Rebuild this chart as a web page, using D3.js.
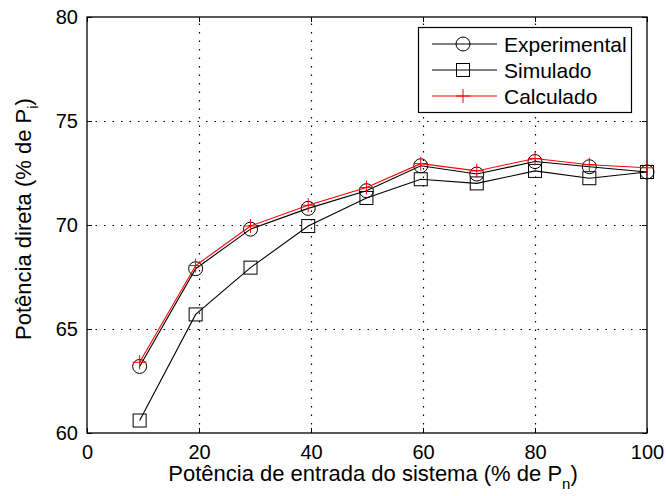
<!DOCTYPE html>
<html>
<head>
<meta charset="utf-8">
<script src="https://cdn.jsdelivr.net/npm/d3@7"></script>
<style>
html,body{margin:0;padding:0;background:#fff;}
svg{display:block;font-family:"Liberation Sans",Arial,Helvetica,sans-serif;}
</style>
</head>
<body>
<svg id="chart" width="666" height="496"></svg>
<script>
const xValues = [9.4, 19.4, 29.2, 39.5, 49.9, 59.6, 69.6, 80, 89.7, 100];
const experimental = [63.2, 67.9, 69.8, 70.8, 71.65, 72.85, 72.45, 73.05, 72.8, 72.55];
const simulado = [60.6, 65.7, 67.95, 69.95, 71.3, 72.2, 72.0, 72.6, 72.25, 72.55];
const calculado = [63.4, 68.05, 69.95, 70.95, 71.8, 72.95, 72.6, 73.2, 72.9, 72.75];
const xTicks = [0, 20, 40, 60, 80, 100];
const yTicks = [60, 65, 70, 75, 80];
const seriesNames = ["Experimental", "Simulado", "Calculado"];
const seriesColors = ["#000000", "#000000", "#ff0000"];
const seriesMarkers = ["circle", "square", "plus"];

const svg = d3.select("#chart");
const m = {left: 87, right: 647, top: 17, bottom: 433};
const x = d3.scaleLinear().domain([0, 100]).range([m.left, m.right]);
const y = d3.scaleLinear().domain([60, 80]).range([m.bottom, m.top]);

// grid
const grid = svg.append("g").attr("stroke", "#000").attr("stroke-width", 1.2).attr("stroke-dasharray", "1.5,7");
grid.selectAll(".vg").data(xTicks.slice(1, -1)).enter().append("line")
  .attr("x1", d => Math.round(x(d)) + 0.5).attr("x2", d => Math.round(x(d)) + 0.5)
  .attr("y1", m.bottom).attr("y2", m.top);
grid.selectAll(".hg").data(yTicks.slice(1, -1)).enter().append("line")
  .attr("y1", d => Math.round(y(d)) + 0.5).attr("y2", d => Math.round(y(d)) + 0.5)
  .attr("x1", m.left).attr("x2", m.right);

// axes
const tickFs = 20;
const fs = 21;
const titleFs = 22;
const axB = svg.append("g").attr("transform", `translate(0,${m.bottom})`)
  .call(d3.axisBottom(x).tickValues(xTicks).tickSizeInner(-5).tickSizeOuter(0).tickPadding(12));
const axT = svg.append("g").attr("transform", `translate(0,${m.top})`)
  .call(d3.axisTop(x).tickValues(xTicks).tickSizeInner(-5).tickSizeOuter(0).tickFormat(""));
const axL = svg.append("g").attr("transform", `translate(${m.left},0)`)
  .call(d3.axisLeft(y).tickValues(yTicks).tickSizeInner(-5).tickSizeOuter(0).tickPadding(9));
const axR = svg.append("g").attr("transform", `translate(${m.right},0)`)
  .call(d3.axisRight(y).tickValues(yTicks).tickSizeInner(-5).tickSizeOuter(0).tickFormat(""));
[axB, axT, axL, axR].forEach(a => {
  a.select(".domain").remove();
  a.selectAll("line").attr("stroke", "#000");
  a.selectAll("text").attr("font-size", tickFs).attr("fill", "#000").attr("font-family", "Liberation Sans, Arial, sans-serif");
});
svg.append("rect").attr("x", m.left).attr("y", m.top)
  .attr("width", m.right - m.left).attr("height", m.bottom - m.top)
  .attr("fill", "none").attr("stroke", "#000").attr("stroke-width", 1.3);

// series
const allSeries = [experimental, simulado, calculado];
const line = d3.line().x(d => x(d[0])).y(d => y(d[1]));
function drawMarker(g, type, color, cx, cy) {
  if (type === "circle") {
    g.append("circle").attr("cx", cx).attr("cy", cy).attr("r", 7)
      .attr("fill", "none").attr("stroke", color).attr("stroke-width", 1);
  } else if (type === "square") {
    g.append("rect").attr("x", cx - 6.5).attr("y", cy - 6.5).attr("width", 13).attr("height", 13)
      .attr("fill", "none").attr("stroke", color).attr("stroke-width", 1);
  } else {
    g.append("path").attr("d", `M${cx - 7},${cy}H${cx + 7}M${cx},${cy - 7}V${cy + 7}`)
      .attr("stroke", color).attr("stroke-width", 1).attr("fill", "none");
  }
}
allSeries.forEach((vals, i) => {
  const pts = xValues.map((xv, j) => [xv, vals[j]]);
  const g = svg.append("g");
  g.append("path").datum(pts).attr("d", line).attr("fill", "none")
    .attr("stroke", seriesColors[i]).attr("stroke-width", 1.1);
  pts.forEach(p => drawMarker(g, seriesMarkers[i], seriesColors[i], x(p[0]), y(p[1])));
});

// legend
const lg = svg.append("g");
lg.append("rect").attr("x", 418.5).attr("y", 27.5).attr("width", 213).attr("height", 85)
  .attr("fill", "#fff").attr("stroke", "#000").attr("stroke-width", 1.2);
seriesNames.forEach((name, i) => {
  const ly = 44 + i * 26;
  lg.append("line").attr("x1", 432).attr("x2", 497).attr("y1", ly).attr("y2", ly)
    .attr("stroke", seriesColors[i]).attr("stroke-width", 1);
  drawMarker(lg, seriesMarkers[i], seriesColors[i], 463, ly);
  lg.append("text").attr("x", 504).attr("y", ly).attr("dy", "0.36em")
    .attr("font-size", fs).attr("fill", "#000").text(name);
});

// axis titles
const xt = svg.append("text").attr("x", 373).attr("y", 481)
  .attr("text-anchor", "middle").attr("font-size", titleFs).attr("fill", "#000");
xt.append("tspan").text("Potência de entrada do sistema (% de P");
xt.append("tspan").attr("font-size", 15).attr("dy", 8).text("n");
xt.append("tspan").attr("dy", -8).text(")");

const yt = svg.append("text").attr("transform", `translate(31,219) rotate(-90)`)
  .attr("text-anchor", "middle").attr("font-size", titleFs).attr("fill", "#000");
yt.append("tspan").text("Potência direta (% de P");
yt.append("tspan").attr("font-size", 15).attr("dy", 7).text("i");
yt.append("tspan").attr("dy", -7).text(")");
</script>
</body>
</html>
